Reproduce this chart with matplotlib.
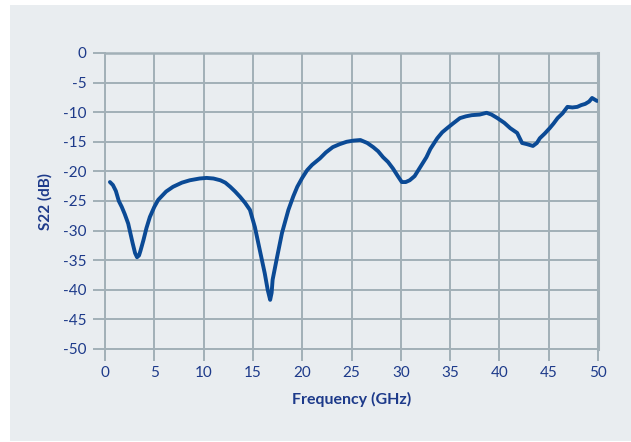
import matplotlib
matplotlib.use('Agg')
import matplotlib.pyplot as plt
from matplotlib.patches import Rectangle

# S22
freq_ghz = [0.5, 0.8, 1.1, 1.4, 1.7, 2.0, 2.35, 2.8, 3.05, 3.25, 3.45, 3.6, 3.9, 4.2, 4.55,
            5.0, 5.4, 6.2, 6.9, 7.8, 8.6, 9.6, 10.3, 11.0, 11.7, 12.2, 12.7, 13.2, 13.7, 14.2,
            14.7, 15.2, 15.7, 16.2, 16.5, 16.75, 16.9, 17.0, 17.45, 17.95, 18.6, 19.1, 19.5,
            20.0, 20.5, 21.0, 21.8, 22.4, 23.1, 23.8, 24.5, 25.2, 25.9, 26.6, 27.2, 27.7,
            28.2, 28.7, 29.2, 29.7, 30.1, 30.5, 30.9, 31.4, 32.0, 32.6, 33.0, 33.7, 34.2,
            34.7, 35.3, 36.0, 36.6, 37.2, 38.0, 38.7, 39.2, 39.8, 40.5, 41.1, 41.8, 42.3,
            42.8, 43.4, 43.8, 44.1, 44.6, 45.1, 45.5, 45.9, 46.4, 46.9, 47.4, 47.9, 48.3,
            48.7, 49.1, 49.4, 49.9]
s22_db = [-21.8, -22.3, -23.3, -25.0, -26.0, -27.2, -28.8, -32.1, -33.8, -34.5, -34.2, -33.4,
          -31.6, -29.6, -27.7, -26.0, -24.8, -23.4, -22.6, -21.9, -21.5, -21.2, -21.1, -21.2,
          -21.5, -21.9, -22.6, -23.4, -24.3, -25.3, -26.5, -29.4, -33.3, -37.2, -40.0, -41.7,
          -40.5, -38.3, -34.5, -30.4, -26.5, -24.2, -22.6, -21.1, -19.8, -18.9, -17.8, -16.8,
          -15.9, -15.4, -15.0, -14.8, -14.7, -15.2, -15.9, -16.6, -17.6, -18.4, -19.5, -20.8,
          -21.8, -21.8, -21.5, -20.8, -19.2, -17.6, -16.2, -14.4, -13.4, -12.7, -11.9, -11.0,
          -10.7, -10.5, -10.4, -10.1, -10.4, -11.0, -11.8, -12.7, -13.5, -15.2, -15.4, -15.7,
          -15.2, -14.4, -13.6, -12.7, -11.9, -11.0, -10.2, -9.1, -9.2, -9.1, -8.8, -8.6, -8.2,
          -7.6, -8.1]

x_ticks = list(range(0, 51, 5))
y_ticks = list(range(0, -51, -5))

navy = '#1d3a8a'
grid_col = '#a2b0b7'
bg = '#e9edf0'

plt.rcParams['font.family'] = ['Lato', 'DejaVu Sans']

fig = plt.figure(figsize=(6.31, 4.42), dpi=100, facecolor='white')
fig.patches.append(Rectangle((10 / 631, 1 / 442), 621 / 631, 436 / 442,
                             transform=fig.transFigure, facecolor=bg, edgecolor='none', zorder=-10))
ax = fig.add_axes([105 / 631, 1 - 349 / 442, 493 / 631, 296 / 442])
ax.set_facecolor(bg)

ax.plot(freq_ghz, s22_db, color='#0b4a95', linewidth=2.8,
        solid_capstyle='round', solid_joinstyle='round', zorder=3)

ax.set_xlim(0, 50)
ax.set_ylim(-50, 0)
ax.set_xticks(x_ticks)
ax.set_yticks(y_ticks)
ax.set_yticklabels([str(v) for v in y_ticks])
ax.grid(True, color=grid_col, linewidth=1.4)
ax.tick_params(axis='both', colors=grid_col, width=1.4, length=8.5, labelcolor=navy, labelsize=11)
ax.tick_params(axis='y', pad=5)
ax.tick_params(axis='x', pad=4)
for s in ax.spines.values():
    s.set_color(grid_col)
    s.set_linewidth(1.4)
ax.spines['right'].set_linewidth(2.2)
ax.spines['top'].set_linewidth(1.8)

ax.set_xlabel('Frequency (GHz)', color=navy, fontweight='bold', fontsize=11.5, labelpad=8)
ax.set_ylabel('S22 (dB)', color=navy, fontweight='bold', fontsize=11, labelpad=7)

fig.savefig('out.png', dpi=100, facecolor='white')
